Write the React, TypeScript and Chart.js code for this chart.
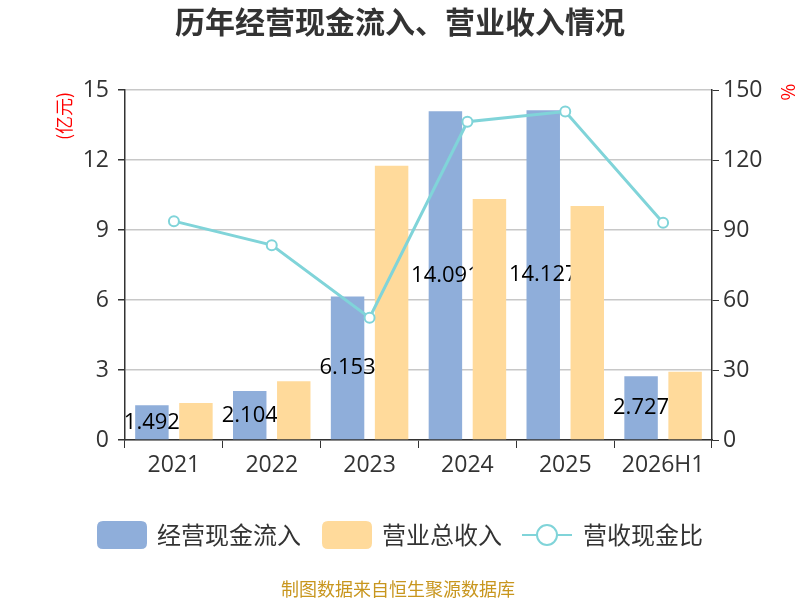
import React, { useEffect, useRef } from "react";
import { Chart, registerables } from "chart.js";

Chart.register(...registerables);

const categories = ["2021", "2022", "2023", "2024", "2025", "2026H1"];
const cashInflow = [1.492, 2.104, 6.153, 14.091, 14.127, 2.727];
const revenue = [1.59, 2.52, 11.75, 10.33, 10.03, 2.93];
const ratio = [93.8, 83.5, 52.4, 136.4, 140.8, 93.1];
const leftTicks = [0, 3, 6, 9, 12, 15];
const rightTicks = [0, 30, 60, 90, 120, 150];

const BLUE = "#8FAEDA";
const ORANGE = "#FFDA9B";
const CYAN = "#80D4D9";
const FONT = "'Noto Sans CJK SC', 'Noto Sans', sans-serif";
const NUMFONT = "'Open Sans', 'Noto Sans', sans-serif";

const decorPlugin = {
  id: "decor",
  afterDatasetDraw(chart: any, args: any) {
    if (args.index !== 0) return;
    const ctx = chart.ctx;
    const meta = chart.getDatasetMeta(0);
    const orangeMeta = chart.getDatasetMeta(1);
    const yScale = chart.scales.y;
    ctx.save();
    // clip out the orange bars so the labels sit beneath them
    ctx.beginPath();
    ctx.rect(0, 0, chart.width, chart.height);
    orangeMeta.data.forEach((b: any) => {
      const p = b.getProps(["x", "y", "base", "width"], true);
      ctx.rect(p.x - p.width / 2, p.y, p.width, p.base - p.y);
    });
    ctx.clip("evenodd");
    ctx.font = `22px ${NUMFONT}`;
    ctx.fillStyle = "#000";
    ctx.textAlign = "center";
    ctx.textBaseline = "middle";
    meta.data.forEach((bar: any, i: number) => {
      const v = cashInflow[i];
      const yTop = yScale.getPixelForValue(v);
      const yBase = yScale.getPixelForValue(0);
      ctx.fillText(String(v), bar.x, (yTop + yBase) / 2);
    });
    ctx.restore();
  },
  afterDraw(chart: any) {
    const ctx = chart.ctx;
    ctx.save();
    // title
    ctx.font = `bold 30px ${FONT}`;
    ctx.fillStyle = "#333";
    ctx.textAlign = "center";
    ctx.textBaseline = "middle";
    ctx.fillText("历年经营现金流入、营业收入情况", 400, 22);

    // axis unit labels
    ctx.fillStyle = "#FF0000";
    ctx.font = `18px ${FONT}`;
    ctx.save();
    ctx.translate(64, 116);
    ctx.rotate(-Math.PI / 2);
    ctx.fillText("(亿元)", 0, 0);
    ctx.restore();
    ctx.save();
    ctx.translate(788, 92);
    ctx.rotate(Math.PI / 2);
    ctx.fillText("%", 0, 0);
    ctx.restore();

    // legend
    const ly = 535;
    ctx.font = `24px ${FONT}`;
    ctx.textAlign = "left";
    ctx.textBaseline = "middle";
    const rr = (x: number, y: number, w: number, h: number, r: number) => {
      ctx.beginPath();
      ctx.moveTo(x + r, y);
      ctx.lineTo(x + w - r, y);
      ctx.quadraticCurveTo(x + w, y, x + w, y + r);
      ctx.lineTo(x + w, y + h - r);
      ctx.quadraticCurveTo(x + w, y + h, x + w - r, y + h);
      ctx.lineTo(x + r, y + h);
      ctx.quadraticCurveTo(x, y + h, x, y + h - r);
      ctx.lineTo(x, y + r);
      ctx.quadraticCurveTo(x, y, x + r, y);
      ctx.closePath();
    };
    ctx.fillStyle = BLUE;
    rr(97, ly - 14, 50, 28, 6);
    ctx.fill();
    ctx.fillStyle = "#333";
    ctx.fillText("经营现金流入", 157, ly);

    ctx.fillStyle = ORANGE;
    rr(322, ly - 14, 50, 28, 6);
    ctx.fill();
    ctx.fillStyle = "#333";
    ctx.fillText("营业总收入", 382, ly);

    ctx.strokeStyle = CYAN;
    ctx.lineWidth = 2;
    ctx.beginPath();
    ctx.moveTo(522, ly);
    ctx.lineTo(572, ly);
    ctx.stroke();
    ctx.beginPath();
    ctx.arc(547, ly, 10, 0, Math.PI * 2);
    ctx.fillStyle = "#fff";
    ctx.fill();
    ctx.stroke();
    ctx.fillStyle = "#333";
    ctx.fillText("营收现金比", 583, ly);

    // footer
    ctx.font = `18px ${FONT}`;
    ctx.fillStyle = "#C8961E";
    ctx.textAlign = "center";
    ctx.fillText("制图数据来自恒生聚源数据库", 398, 589);
    ctx.restore();
  },
};

export default function App() {
  const ref = useRef<HTMLCanvasElement>(null);
  useEffect(() => {
    document.body.style.margin = "0";
    const chart = new Chart(ref.current!, {
      type: "bar",
      data: {
        labels: categories,
        datasets: [
          {
            type: "bar",
            label: "经营现金流入",
            data: cashInflow,
            backgroundColor: BLUE,
            yAxisID: "y",
            order: 0,
            categoryPercentage: 0.9,
            barPercentage: 0.76,
          },
          {
            type: "bar",
            label: "营业总收入",
            data: revenue,
            backgroundColor: ORANGE,
            yAxisID: "y",
            order: 0,
            categoryPercentage: 0.9,
            barPercentage: 0.76,
          },
          {
            type: "line",
            label: "营收现金比",
            data: ratio,
            borderColor: CYAN,
            borderWidth: 3,
            pointRadius: 5,
            pointBackgroundColor: "#fff",
            pointBorderColor: CYAN,
            pointBorderWidth: 2,
            yAxisID: "y1",
            order: -1,
            tension: 0,
          } as any,
        ],
      },
      options: {
        animation: false,
        responsive: false,
        devicePixelRatio: 1,
        layout: { padding: { top: 90, left: 0, right: 0, bottom: 0 } },
        plugins: { legend: { display: false }, title: { display: false }, tooltip: { enabled: false } },
        scales: {
          x: {
            grid: { offset: true, drawOnChartArea: false, tickLength: 8, tickColor: "#333" },
            border: { color: "#333", width: 1.5 },
            ticks: { color: "#333", font: { size: 23, family: NUMFONT }, padding: 4 },
            afterFit: (s: any) => { s.height = 160; },
          },
          y: {
            position: "left",
            min: 0,
            max: 15,
            afterBuildTicks: (s: any) => { s.ticks = leftTicks.map((v) => ({ value: v })); },
            grid: { color: "#C8C8C8", lineWidth: 1.5, tickLength: 7, tickColor: "#333" },
            border: { color: "#333", width: 1.5 },
            ticks: { color: "#333", font: { size: 23, family: NUMFONT }, padding: 9 },
            afterFit: (s: any) => { s.width = 125; },
          },
          y1: {
            position: "right",
            min: 0,
            max: 150,
            afterBuildTicks: (s: any) => { s.ticks = rightTicks.map((v) => ({ value: v })); },
            grid: { drawOnChartArea: false, tickLength: 7, tickColor: "#333" },
            border: { color: "#333", width: 1.5 },
            ticks: { color: "#333", font: { size: 23, family: NUMFONT }, padding: 4 },
            afterFit: (s: any) => { s.width = 88; },
          },
        },
      },
      plugins: [decorPlugin],
    });
    return () => chart.destroy();
  }, []);
  return (
    <div style={{ width: 800, height: 600, background: "#fff" }}>
      <canvas ref={ref} width={800} height={600} style={{ display: "block" }} />
    </div>
  );
}
